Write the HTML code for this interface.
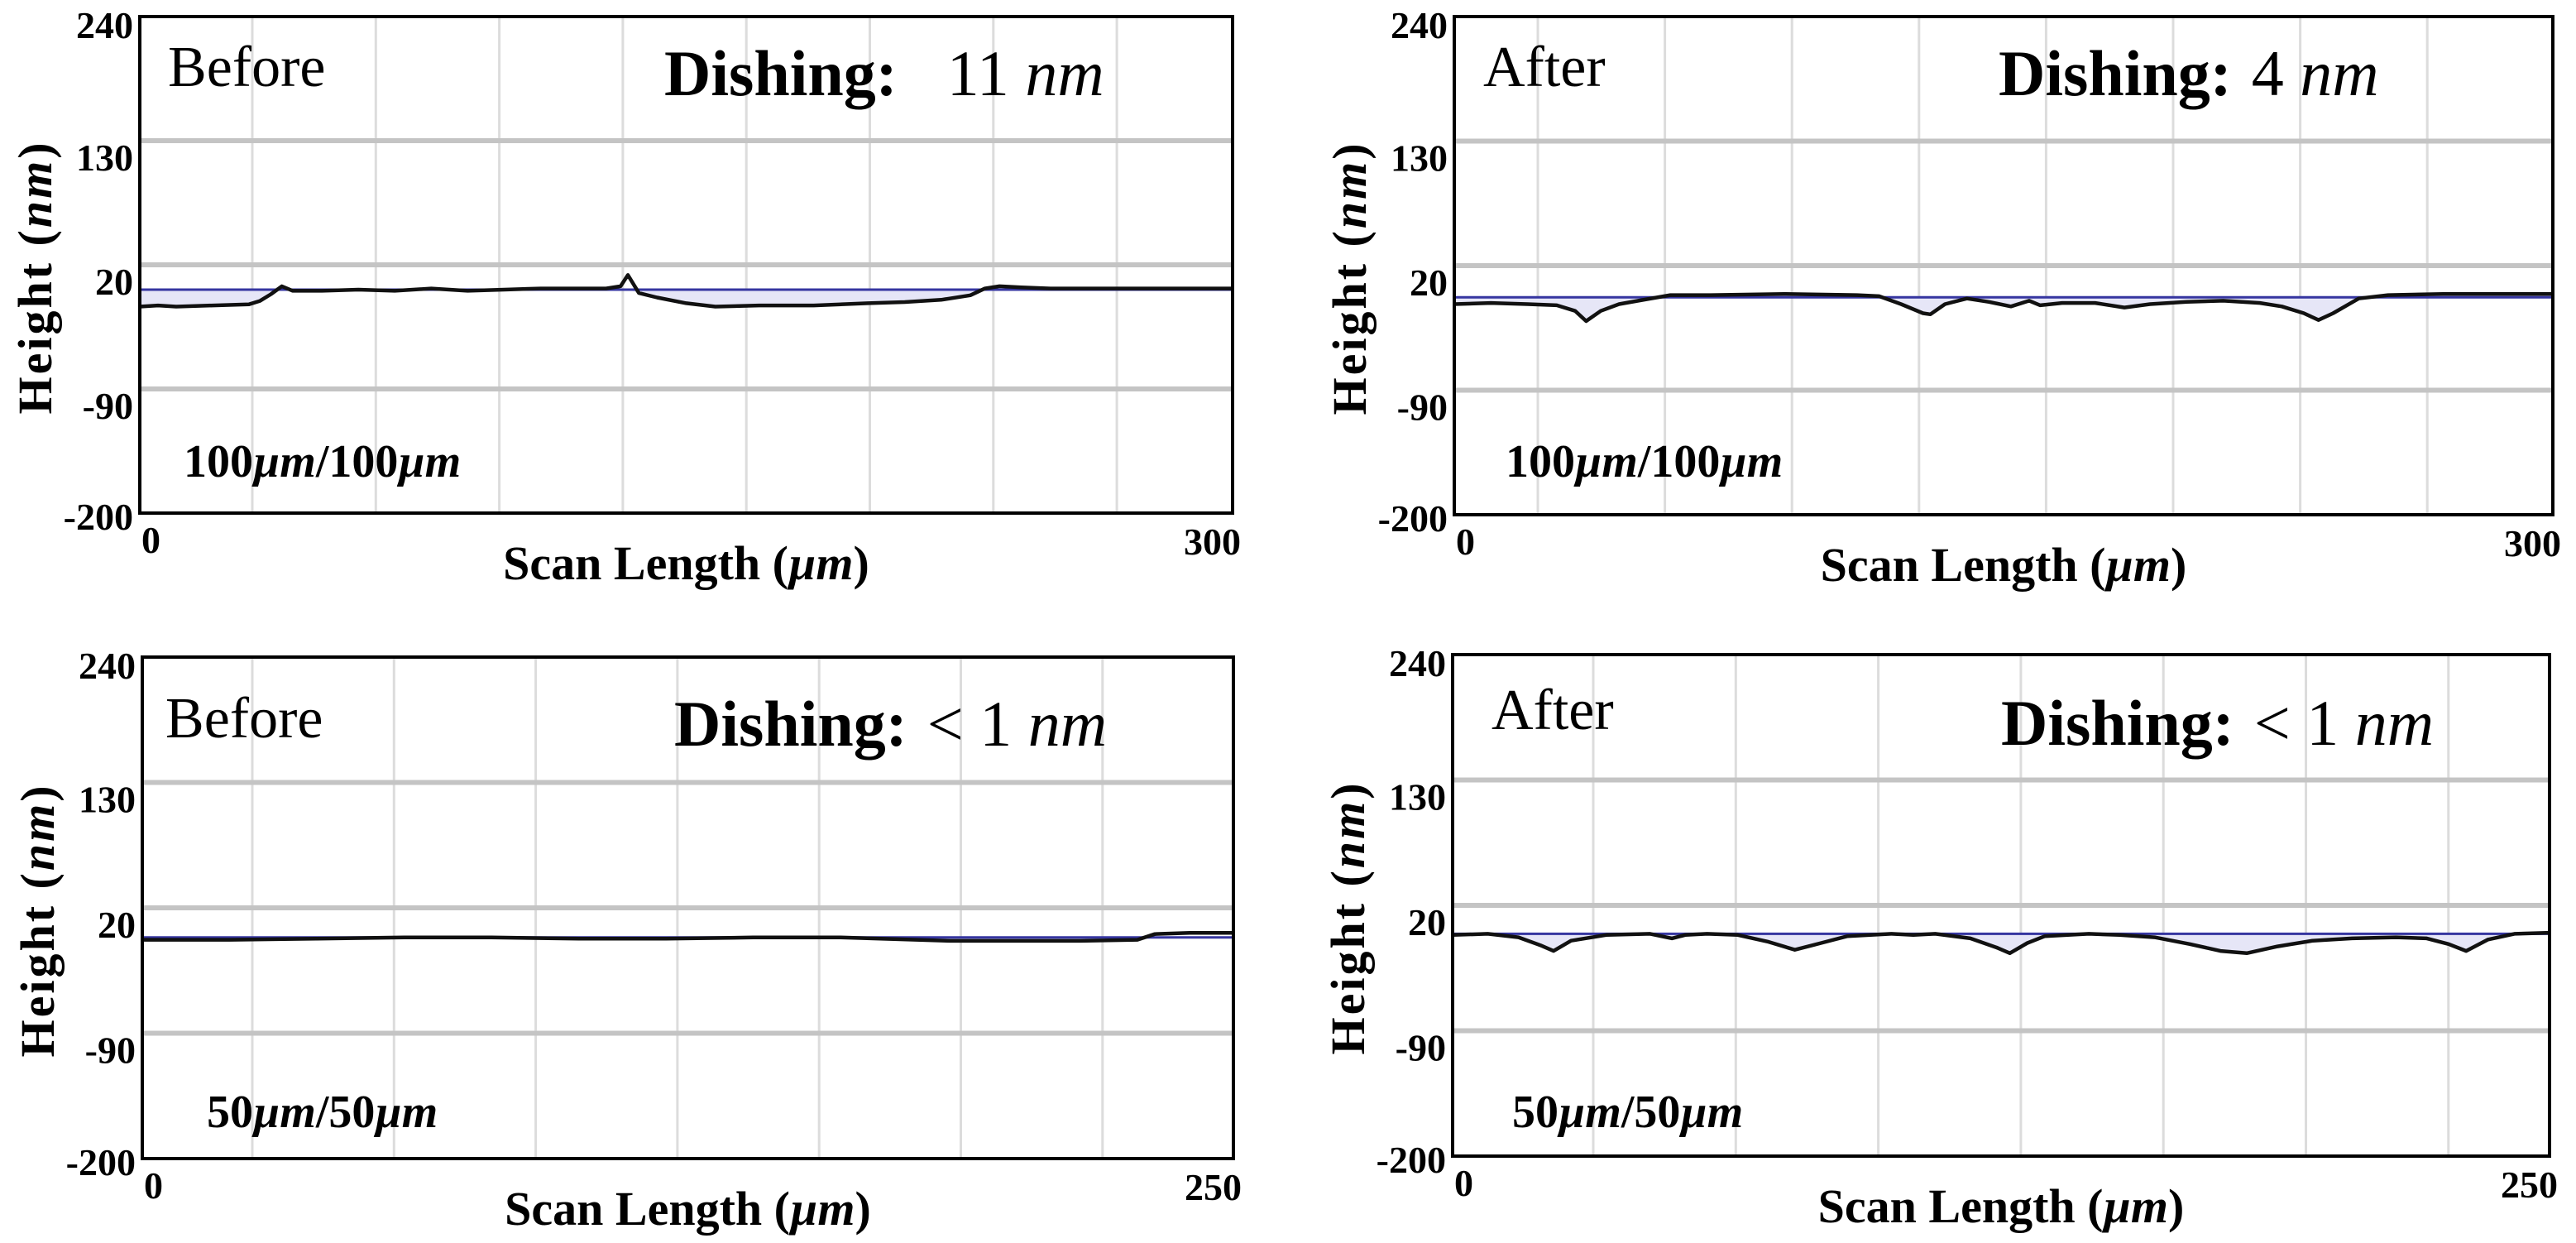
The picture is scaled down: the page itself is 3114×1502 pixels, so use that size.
<!DOCTYPE html>
<html><head><meta charset="utf-8">
<style>
html,body{margin:0;padding:0;background:#fff;}
svg{display:block;}
text{font-family:"Liberation Serif",serif;fill:#000;}
</style></head>
<body>
<svg id="fig" width="3114" height="1502" viewBox="0 0 3114 1502" xmlns="http://www.w3.org/2000/svg"></svg>
<script>
// ---- data (x in µm, height in nm) ----
const yTickLabels = ["240","130","20","-90","-200"];
const tlX = [0,5,10,20,30,33,36,39,42,50,60,70,80,90,100,110,120,128,132,134,137,142,150,158,170,185,200,210,220,228,232,236,242,250,270,300];
const tlY = [-17,-16,-17,-16,-15,-12,-6,1,-3,-3,-2,-3,-1,-3,-2,-1,-1,-1,1,11,-5,-9,-14,-17,-16,-16,-14,-13,-11,-7,-1,1,0,-1,-1,-1];
const trX = [0,10,20,28,33,36,40,45,52,59,70,90,110,116,122,128,130,134,140,146,152,157,160,166,175,183,190,200,210,220,226,232,236,240,247,255,270,285,300];
const trY = [-14,-13,-14,-15,-20,-29,-20,-14,-10,-6,-6,-5,-6,-7,-14,-22,-23,-14,-9,-12,-16,-11,-15,-13,-13,-17,-14,-12,-11,-13,-16,-22,-28,-22,-9,-6,-5,-5,-5];
const blX = [0,20,40,60,80,100,120,140,160,185,200,215,228,232,240,250];
const blY = [-8,-8,-7,-6,-6,-7,-7,-6,-6,-9,-9,-9,-8,-3,-2,-2];
const brX = [0,8,15,20,23,27,35,45,50,53,58,65,72,78,84,90,100,105,110,118,124,127,131,135,145,152,160,168,175,181,188,196,205,215,222,227,231,236,242,250];
const brY = [-6,-5,-8,-15,-20,-11,-6,-5,-9,-6,-5,-6,-12,-19,-13,-7,-5,-6,-5,-9,-17,-22,-13,-7,-5,-6,-8,-14,-20,-22,-16,-11,-9,-8,-9,-14,-20,-10,-5,-4];

const NS="http://www.w3.org/2000/svg";
const fig=document.getElementById('fig');
function mk(tag,attrs,parent){const e=document.createElementNS(NS,tag);for(const k in attrs)e.setAttribute(k,attrs[k]);(parent||fig).appendChild(e);return e;}

const panels=[
 {id:'top-left',x0:169,x1:1490,y0:20,y1:620,xmax:300,X:tlX,Y:tlY,ref:-2,vg0:305,vgs:149.3,vgn:8,label:'Before',dish:'11',scale:'100',lx:203,lb:104,dx:803,db:115,sx:222,sb:576},
 {id:'top-right',x0:1758,x1:3086,y0:20,y1:622,xmax:300,X:trX,Y:trY,ref:-8,vg0:1859,vgs:153.6,vgn:8,label:'After',dish:'4',scale:'100',lx:1793,lb:104,dx:2416,db:115,sx:1820,sb:576},
 {id:'bottom-left',x0:172,x1:1491,y0:794,y1:1400,xmax:250,X:blX,Y:blY,ref:-6,vg0:305,vgs:171.3,vgn:7,label:'Before',dish:'< 1',scale:'50',lx:200,lb:891,dx:815,db:901,sx:250,sb:1362},
 {id:'bottom-right',x0:1756,x1:3082,y0:791,y1:1397,xmax:250,X:brX,Y:brY,ref:-5,vg0:1926,vgs:172.3,vgn:7,label:'After',dish:'< 1',scale:'50',lx:1803,lb:881,dx:2419,db:900,sx:1828,sb:1362}
];

panels.forEach(p=>{
  const g=mk('g',{});
  
  
  const xS=v=>p.x0+v/p.xmax*(p.x1-p.x0);
  const yS=v=>p.y0+(240-v)/440*(p.y1-p.y0);
  const H=p.y1-p.y0;
  for(let i=0;i<p.vgn;i++){
    const x=p.vg0+i*p.vgs;
    const l=mk('line',{x1:x,x2:x,y1:p.y0,y2:p.y1,stroke:'#dcdcdc','stroke-width':3},g);
    
    
  }
  for(let i=1;i<4;i++){
    const y=p.y0+H*i/4;
    const l=mk('line',{x1:p.x0,x2:p.x1,y1:y,y2:y,stroke:'#c4c4c4','stroke-width':6},g);
    
    
  }
  yTickLabels.forEach((t,i)=>{
    let y=p.y0+H*i/4+ (i===0?26:(i===4?20:36));
    const tx=mk('text',{x:p.x0-8,y:y,'text-anchor':'end','font-size':46,'font-weight':'bold'},g);
    tx.textContent=t;
    
    
  });
  const t0=mk('text',{x:p.x0+2,y:p.y1+48,'font-size':46,'font-weight':'bold'},g);
  t0.textContent='0';
  
  
  const t1=mk('text',{x:p.x1+10,y:p.y1+50,'font-size':46,'font-weight':'bold','text-anchor':'end'},g);
  t1.textContent=String(p.xmax);
  
  
  let pts=p.X.map((v,i)=>xS(v).toFixed(1)+','+yS(Math.min(p.Y[i],p.ref)).toFixed(1));
  const fill=mk('polygon',{points:xS(0)+','+yS(p.ref)+' '+pts.join(' ')+' '+xS(p.xmax)+','+yS(p.ref),fill:'#e6e6f7',stroke:'none'},g);
  
  
  const ref=mk('line',{x1:p.x0,x2:p.x1,y1:yS(p.ref),y2:yS(p.ref),stroke:'#3535a0','stroke-width':3},g);
  
  
  const prof=mk('polyline',{points:p.X.map((v,i)=>xS(v).toFixed(1)+','+yS(p.Y[i]).toFixed(1)).join(' '),fill:'none',stroke:'#111','stroke-width':4.5,'stroke-linejoin':'round'},g);
  
  
  const fr=mk('rect',{x:p.x0,y:p.y0,width:p.x1-p.x0,height:H,fill:'none',stroke:'#000','stroke-width':4},g);
  
  
  const lb=mk('text',{x:p.lx,y:p.lb,'font-size':70},g);
  lb.textContent=p.label;
  
  
  const ds=mk('text',{x:p.dx,y:p.db,'font-size':78},g);
  ds.innerHTML='<tspan font-weight="bold">Dishing:</tspan><tspan dx="'+(p.dish==='11'?60:24)+'">'+p.dish.replace('<','&lt;')+' </tspan><tspan font-style="italic">nm</tspan>';
  
  
  const sc=mk('text',{x:p.sx,y:p.sb,'font-size':56,'font-weight':'bold'},g);
  sc.innerHTML=p.scale+'<tspan font-style="italic">µm</tspan>/'+p.scale+'<tspan font-style="italic">µm</tspan>';
  
  
  const xt=mk('text',{x:(p.x0+p.x1)/2,y:p.y1+80,'font-size':58,'font-weight':'bold','text-anchor':'middle'},g);
  xt.innerHTML='Scan Length (<tspan font-style="italic">µm</tspan>)';
  
  
  const cy=(p.y0+p.y1)/2+15;
  const bx=p.x0-107;
  const yt=mk('text',{x:bx,y:cy,'font-size':58,'font-weight':'bold','text-anchor':'middle','letter-spacing':3,transform:'rotate(-90 '+bx+' '+cy+')'},g);
  yt.innerHTML='Height (<tspan font-style="italic">nm</tspan>)';
  
  
});
</script>
</body></html>
